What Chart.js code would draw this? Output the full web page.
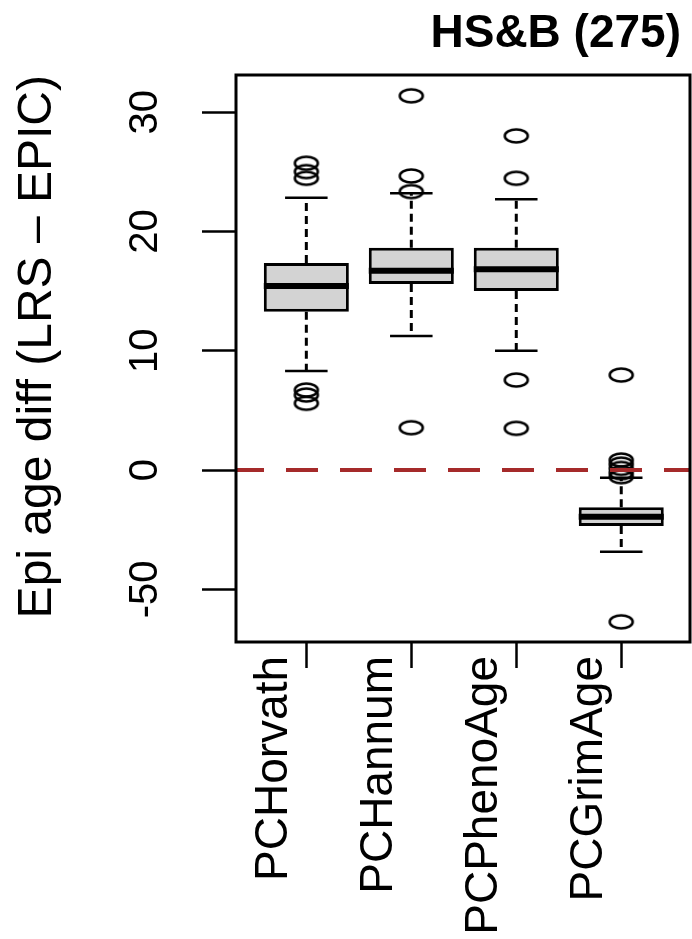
<!DOCTYPE html>
<html>
<head>
<meta charset="utf-8">
<script src="https://cdn.jsdelivr.net/npm/chart.js@4.4.1/dist/chart.umd.min.js"></script>
<style>
  html, body { margin: 0; padding: 0; background: #ffffff; }
  canvas { display: block; }
</style>
</head>
<body>
<canvas id="c" width="692" height="939"></canvas>
<script>
// ---------- data ----------
const categories = ['PCHorvath', 'PCHannum', 'PCPhenoAge', 'PCGrimAge'];
const q1 = [13.28, 15.60, 15.02, -4.70];
const medians = [15.44, 16.72, 16.84, -3.92];
const q3 = [17.37, 18.65, 18.65, -3.13];
const whiskerLow = [8.31, 11.24, 10.01, -6.85];
const whiskerHigh = [22.84, 23.21, 22.71, -0.65];
const outliersHorvath = [25.73, 25.03, 24.47, 6.71, 6.29, 5.60];
const outliersHannum = [31.38, 24.66, 23.35, 3.55];
const outliersPhenoAge = [28.02, 24.47, 7.55, 3.50];
const outliersGrimAge = [7.97, 0.84, 0.50, 0.14, -0.23, -0.56, -12.73];
const yTickValues = [-10, 0, 10, 20, 30];
const yTickLabels = ['-50', '0', '10', '20', '30'];
const referenceLine = 0;
const chartTitle = 'HS&B (275)';
const yAxisTitle = 'Epi age diff (LRS \u2013 EPIC)';

// ---------- derived tables ----------
const outlierLists = [outliersHorvath, outliersHannum, outliersPhenoAge, outliersGrimAge];
const boxData = categories.map((c, i) => ({ x: i + 1, y: [q1[i], q3[i]] }));
const outlierData = [];
outlierLists.forEach((list, i) => list.forEach(v => outlierData.push({ x: i + 1, y: v })));

// open ellipse marker (R pch=1 as it appears in the picture)
const marker = document.createElement('canvas');
marker.width = 32; marker.height = 22;
(function () {
  const m = marker.getContext('2d');
  m.strokeStyle = '#000';
  m.lineWidth = 2.5;
  m.beginPath();
  m.ellipse(16, 11, 11.5, 6.5, 0, 0, Math.PI * 2);
  m.stroke();
})();

const FONT = '"Liberation Sans", Arial, Helvetica, sans-serif';
Chart.defaults.font.family = FONT;
Chart.defaults.color = '#000';

const boxPlugin = {
  id: 'boxExtras',
  beforeDatasetsDraw(chart) {
    const ctx = chart.ctx;
    const xs = chart.scales.x, ys = chart.scales.y;
    const bars = chart.getDatasetMeta(0).data;
    ctx.save();
    ctx.strokeStyle = '#000';
    categories.forEach((c, i) => {
      const x = xs.getPixelForValue(i + 1);
      const half = bars[i] ? bars[i].width / 2 : 40;
      // dashed whiskers
      ctx.lineWidth = 3;
      ctx.setLineDash([8, 5]);
      ctx.beginPath();
      ctx.moveTo(x, ys.getPixelForValue(q3[i]));
      ctx.lineTo(x, ys.getPixelForValue(whiskerHigh[i]));
      ctx.moveTo(x, ys.getPixelForValue(q1[i]));
      ctx.lineTo(x, ys.getPixelForValue(whiskerLow[i]));
      ctx.stroke();
      // staples
      ctx.setLineDash([]);
      ctx.lineWidth = 2.5;
      ctx.beginPath();
      const yh = ys.getPixelForValue(whiskerHigh[i]);
      const yl = ys.getPixelForValue(whiskerLow[i]);
      ctx.moveTo(x - half / 2, yh); ctx.lineTo(x + half / 2, yh);
      ctx.moveTo(x - half / 2, yl); ctx.lineTo(x + half / 2, yl);
      ctx.stroke();
    });
    ctx.restore();
  },
  afterDatasetsDraw(chart) {
    const ctx = chart.ctx;
    const xs = chart.scales.x, ys = chart.scales.y;
    const bars = chart.getDatasetMeta(0).data;
    const a = chart.chartArea;
    ctx.save();
    // medians
    ctx.strokeStyle = '#000';
    ctx.lineWidth = 6;
    ctx.lineCap = 'butt';
    categories.forEach((c, i) => {
      const x = xs.getPixelForValue(i + 1);
      const half = bars[i] ? bars[i].width / 2 : 40;
      const y = ys.getPixelForValue(medians[i]);
      ctx.beginPath();
      ctx.moveTo(x - half, y); ctx.lineTo(x + half, y);
      ctx.stroke();
    });
    // reference line
    ctx.beginPath();
    ctx.rect(a.left, a.top, a.right - a.left, a.bottom - a.top);
    ctx.clip();
    ctx.strokeStyle = '#a52a2a';
    ctx.lineWidth = 4;
    ctx.setLineDash([32, 22]);
    ctx.lineDashOffset = 4;
    const y0 = ys.getPixelForValue(referenceLine);
    ctx.beginPath();
    ctx.moveTo(a.left, y0); ctx.lineTo(a.right, y0);
    ctx.stroke();
    ctx.restore();
    // frame
    ctx.save();
    ctx.strokeStyle = '#000';
    ctx.lineWidth = 3;
    ctx.strokeRect(a.left, a.top, a.right - a.left, a.bottom - a.top);
    ctx.restore();
  },
  afterDraw(chart) {
    // main title, right-aligned above the plot
    const ctx = chart.ctx;
    ctx.save();
    ctx.fillStyle = '#000';
    ctx.font = 'bold 46px ' + FONT;
    ctx.textAlign = 'right';
    ctx.textBaseline = 'alphabetic';
    ctx.fillText(chartTitle, 681, 47);
    ctx.restore();
  }
};

new Chart(document.getElementById('c'), {
  type: 'bar',
  data: {
    datasets: [
      {
        type: 'bar',
        data: boxData,
        backgroundColor: '#d3d3d3',
        borderColor: '#000',
        borderWidth: 3,
        borderSkipped: false,
        barPercentage: 0.81,
        categoryPercentage: 1.0,
        order: 2
      },
      {
        type: 'scatter',
        data: outlierData,
        pointStyle: marker,
        pointRadius: 10,
        showLine: false,
        order: 1
      }
    ]
  },
  options: {
    responsive: false,
    devicePixelRatio: 1,
    animation: false,
    events: [],
    layout: { autoPadding: false, padding: { left: 0, right: 2, top: 75, bottom: 0 } },
    plugins: {
      legend: { display: false },
      tooltip: { enabled: false },
      title: { display: false }
    },
    scales: {
      x: {
        type: 'linear',
        min: 0.33,
        max: 4.655,
        offset: false,
        afterBuildTicks(scale) { scale.ticks = categories.map((c, i) => ({ value: i + 1 })); },
        afterFit(scale) { scale.height = 297; scale.paddingLeft = 0; scale.paddingRight = 0; },
        grid: { display: true, offset: false, drawOnChartArea: false, drawTicks: true, tickLength: 26, tickWidth: 2.5, tickColor: '#000' },
        border: { display: false },
        ticks: {
          autoSkip: false,
          minRotation: 90,
          maxRotation: 90,
          padding: -12,
          labelOffset: -32,
          color: '#000',
          font: { size: 46, family: FONT },
          callback: (v) => categories[Math.round(v) - 1] || ''
        }
      },
      y: {
        type: 'linear',
        min: -14.42,
        max: 33.13,
        afterBuildTicks(scale) { scale.ticks = yTickValues.map(v => ({ value: v })); },
        afterFit(scale) { scale.width = 236; scale.paddingTop = 0; scale.paddingBottom = 0; },
        grid: { display: true, drawOnChartArea: false, drawTicks: true, tickLength: 34, tickWidth: 2.5, tickColor: '#000' },
        border: { display: false },
        title: {
          display: true,
          text: yAxisTitle,
          align: 'end',
          color: '#000',
          font: { size: 48, family: FONT },
          padding: { top: 9, bottom: 0 }
        },
        ticks: {
          autoSkip: false,
          minRotation: 90,
          maxRotation: 90,
          crossAlign: 'center',
          padding: 27,
          color: '#000',
          font: { size: 40, family: FONT },
          callback: (v) => { const k = yTickValues.indexOf(v); return k >= 0 ? yTickLabels[k] : ''; }
        }
      }
    }
  },
  plugins: [boxPlugin]
});
</script>
</body>
</html>
